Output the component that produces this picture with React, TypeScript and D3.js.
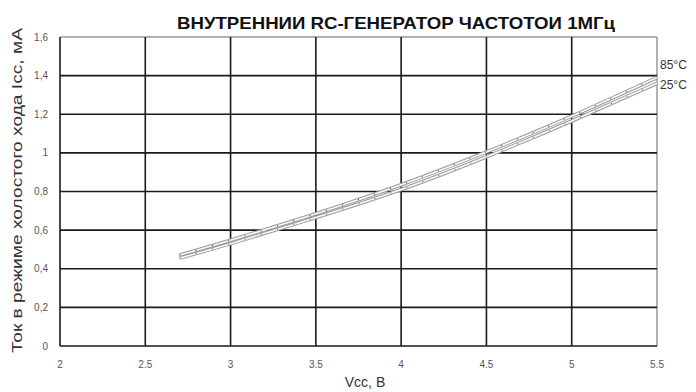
import React from "react";
import * as d3 from "d3";

const vcc = [2.7, 3.0, 3.5, 4.0, 4.5, 5.0, 5.5];
const icc85 = [0.47, 0.548, 0.685, 0.835, 1.005, 1.19, 1.39];
const icc25 = [0.455, 0.53, 0.665, 0.81, 0.98, 1.165, 1.36];
const xTicks = [2, 2.5, 3, 3.5, 4, 4.5, 5, 5.5];
const yTicks = [0, 0.2, 0.4, 0.6, 0.8, 1, 1.2, 1.4, 1.6];
const seriesLabels = ["85°C", "25°C"];
const title = "ВНУТРЕННИИ RC-ГЕНЕРАТОР ЧАСТОТОИ 1МГц";
const xTitle = "Vcc, B";
const yTitle = "Ток в режиме холостого хода Icc, мА";

const W = 696, H = 392;
const L = 60, R = 657, T = 37, B = 346;

export default function App() {
  const x = d3.scaleLinear().domain([2, 5.5]).range([L, R]);
  const y = d3.scaleLinear().domain([0, 1.6]).range([B, T]);
  const line = d3
    .line<number>()
    .x((_, i) => x(vcc[i]))
    .y((d) => y(d))
    .curve(d3.curveNatural);
  const series = [icc85, icc25];
  const font = "Arial, 'Liberation Sans', sans-serif";
  return (
    <svg
      width={W}
      height={H}
      style={{ position: "absolute", left: 0, top: 0, background: "#fff" }}
      fontFamily={font}
    >
      <rect x={0} y={0} width={W} height={H} fill="#fff" />
      <text
        x={396}
        y={29}
        textAnchor="middle"
        fontSize={16.5}
        fontWeight="bold"
        fill="#111"
        textLength={438}
        lengthAdjust="spacingAndGlyphs"
      >
        {title}
      </text>
      <line x1={L} x2={R} y1={T} y2={T} stroke="#999" strokeWidth={1.5} />
      <line x1={R} x2={R} y1={T} y2={B} stroke="#999" strokeWidth={1.5} />
      {yTicks.filter((t) => t < 1.6).map((t) => (
        <line key={"h" + t} x1={L} x2={R} y1={y(t)} y2={y(t)} stroke="#1a1a1a" strokeWidth={1.6} />
      ))}
      {xTicks.filter((t) => t < 5.5).map((t) => (
        <line key={"v" + t} x1={x(t)} x2={x(t)} y1={T} y2={B} stroke="#1a1a1a" strokeWidth={1.6} />
      ))}
      {yTicks.map((t) => (
        <text key={"yt" + t} x={48} y={y(t)} dy="0.35em" textAnchor="end" fontSize={10} fill="#555">
          {String(t).replace(".", ",")}
        </text>
      ))}
      {xTicks.map((t) => (
        <text key={"xt" + t} x={x(t)} y={368} textAnchor="middle" fontSize={10} fill="#555">
          {String(t)}
        </text>
      ))}
      <text x={365} y={387} textAnchor="middle" fontSize={14} fill="#333">
        {xTitle}
      </text>
      <text
        transform={`translate(22,${(28 + 353) / 2}) rotate(-90)`}
        textAnchor="middle"
        fontSize={14}
        fill="#333"
        textLength={325}
        lengthAdjust="spacingAndGlyphs"
      >
        {yTitle}
      </text>
      {series.map((s, i) => (
        <g key={"s" + i}>
          <path d={line(s) || ""} fill="none" stroke="#999" strokeWidth={3.6} />
          <path d={line(s) || ""} fill="none" stroke="#fafafa" strokeWidth={1.6} />
          <path
            d={line(s) || ""}
            fill="none"
            stroke={i === 0 ? "#222" : "#a33"}
            strokeWidth={1}
            strokeDasharray="1,16"
          />
        </g>
      ))}
      {seriesLabels.map((lab, i) => (
        <text key={lab} x={660} y={65 + i * 20} dy="0.35em" fontSize={12} fill="#333">
          {lab}
        </text>
      ))}
    </svg>
  );
}
